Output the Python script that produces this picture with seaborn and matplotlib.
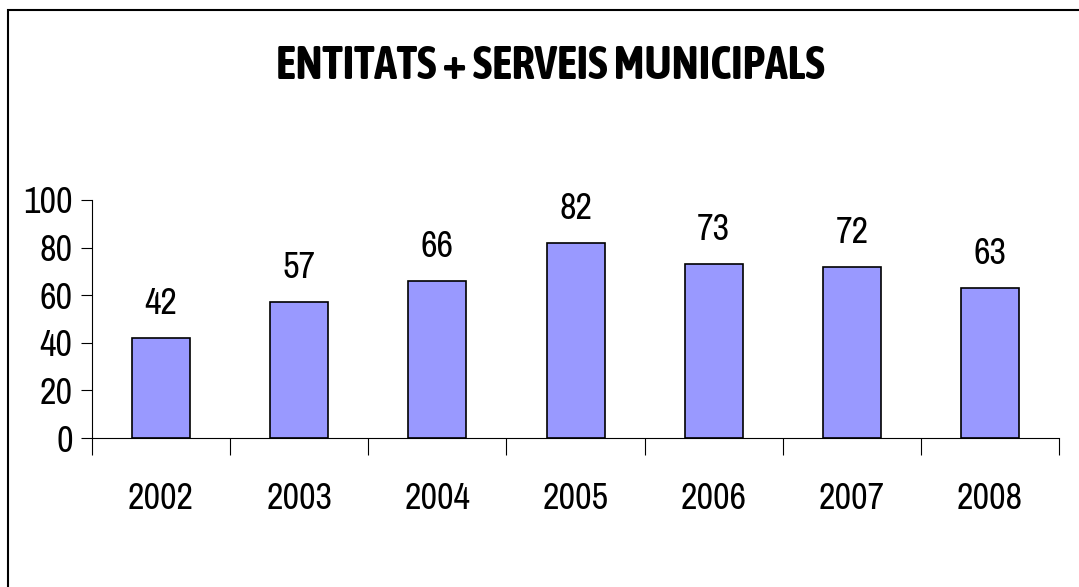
import matplotlib
matplotlib.use("Agg")
import matplotlib.pyplot as plt
from matplotlib import font_manager
from matplotlib.patches import Rectangle
import pandas as pd
import seaborn as sns

years = ["2002", "2003", "2004", "2005", "2006", "2007", "2008"]
counts = [42, 57, 66, 82, 73, 72, 63]
y_ticks = [0, 20, 40, 60, 80, 100]
title = "ENTITATS + SERVEIS MUNICIPALS"

sns.set_style("white", rc={"xtick.bottom": True, "ytick.left": True})


def weight_num(w):
    if isinstance(w, int):
        return w
    return font_manager.weight_dict.get(str(w), 400)


# look for a narrow face like Arial Narrow (with a bold cut), else Liberation Sans
faces = {}
for f in font_manager.fontManager.ttflist:
    if ("Narrow" in f.name or "Condensed" in f.name) and f.style == "normal":
        faces.setdefault(f.name, set()).add(weight_num(f.weight))
with_bold = sorted(n for n, w in faces.items() if max(w) >= 700 and min(w) <= 400)
regular = sorted(n for n, w in faces.items() if min(w) <= 400)
face = regular[0] if regular else "Liberation Sans"
bold_face = with_bold[0] if with_bold else face
plt.rcParams["font.family"] = [face, "Liberation Sans", "DejaVu Sans"]
plt.rcParams["text.color"] = "black"

df = pd.DataFrame({"year": years, "count": counts})

fig = plt.figure(figsize=(10.79, 5.87), dpi=100)
ax = fig.add_axes([0.0853, 0.2538, 0.8962, 0.4055])

sns.barplot(data=df, x="year", y="count", color="#9999FF", saturation=1,
            width=0.42, edgecolor="black", linewidth=1.2, ax=ax)

ax.set_ylim(0, 100)
ax.set_xlim(-0.5, len(years) - 0.5)
ax.set_yticks(y_ticks)
ax.set_xticks(range(len(years)))
ax.set_xticklabels(years)
ax.set_xticks([i - 0.5 for i in range(len(years) + 1)], minor=True)
ax.tick_params(axis="x", which="major", bottom=True, length=0, pad=32,
               labelsize=26, labelcolor="black")
ax.tick_params(axis="x", which="minor", bottom=True, length=12, width=0.8,
               color="black", direction="out")
ax.tick_params(axis="y", left=True, length=8, width=0.8, color="black",
               direction="out", pad=6, labelsize=26, labelcolor="black")
ax.set_xlabel("")
ax.set_ylabel("")

for s in ["top", "right"]:
    ax.spines[s].set_visible(False)
for s in ["left", "bottom"]:
    ax.spines[s].set_color("black")
    ax.spines[s].set_linewidth(0.8)

for i, v in enumerate(counts):
    ax.annotate(str(v), (i, v), xytext=(0, 13), textcoords="offset points",
                ha="center", va="bottom", fontsize=26, color="black")

fig.text(0.51, 0.888, title, ha="center", va="center", fontsize=33,
         fontweight="bold", family=[bold_face, "Liberation Sans"], color="black")

fig.patches.append(Rectangle((8 / 1079, -0.02), 1.05, 1 - 10 / 587 + 0.02,
                             transform=fig.transFigure, fill=False,
                             edgecolor="black", linewidth=1.5))

fig.savefig("out.png", dpi=100)
